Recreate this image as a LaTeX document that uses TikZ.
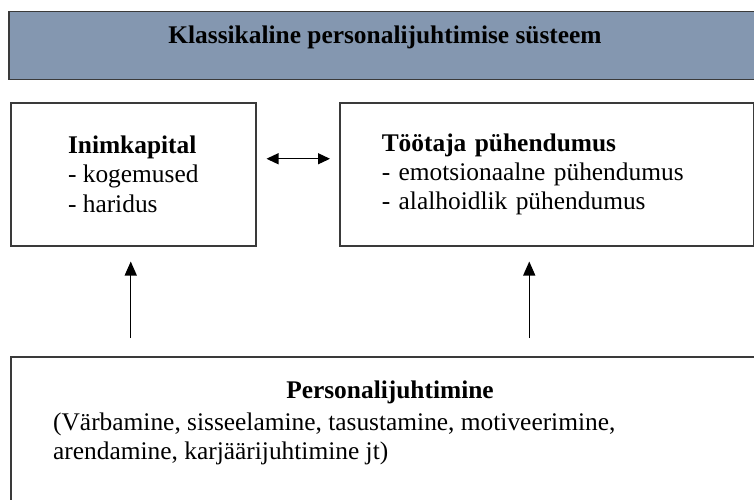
\documentclass[tikz,border=0pt]{standalone}
\usepackage{fontspec}
\setmainfont{Liberation Serif}
\usetikzlibrary{arrows.meta,positioning,calc}

\definecolor{bannerblue}{HTML}{8497B0}
\definecolor{edgegray}{HTML}{3A3A3A}

\begin{document}
\begin{tikzpicture}[
      x=1pt, y=-1pt,
      font=\fontsize{25.4}{29.2}\selectfont,
      box/.style={draw=edgegray, line width=1.5pt, anchor=north west,
        inner sep=0pt},
      banner/.style={box, fill=bannerblue, minimum width=760pt, minimum height=68pt},
      factor/.style={box, align=left, minimum height=143pt},
      txt/.style={inner sep=0pt},
      arr/.style={-{Triangle[length=14pt, width=12pt]}, line width=1.3pt},
      biarr/.style={{Triangle[length=12pt, width=11pt]}-{Triangle[length=12pt, width=11pt]},
        line width=1.3pt},
    ]
    \useasboundingbox (0,0) rectangle (754,499);
    \clip (0,0) rectangle (754,499);

    \node[banner] (sys) at (8,10.5) {};
    \node[txt, anchor=base] (systitle) at (385,43) {\textbf{Klassikaline personalijuhtimise süsteem}};

    \node[factor, minimum width=245pt] (hc) at (10,102)
      {\textbf{Inimkapital}\\- kogemused\\- haridus};
    \node[factor, minimum width=414pt, text width=330pt] (commit) at (339,102)
      {\textbf{Töötaja pühendumus}\\- emotsionaalne pühendumus\\- alalhoidlik pühendumus};

    \node[box, minimum width=760pt, minimum height=200pt] (hrm) at (10,356) {};
    \node[txt, anchor=base] (hrmtitle) at (390,398) {\textbf{Personalijuhtimine}};
    \node[txt, anchor=north west, align=left] (hrmlist) at (53,412.5)
      {(Värbamine, sisseelamine, tasustamine, motiveerimine,\\arendamine, karjäärijuhtimine jt)};

    \draw[biarr, shorten <=10pt, shorten >=9pt]
      ([yshift=15.5pt]hc.east) -- ([yshift=15.5pt]commit.west);
    \draw[arr, shorten <=18pt, shorten >=15pt]
      ([xshift=-2.5pt]hc.south |- hrm.north) -- ([xshift=-2.5pt]hc.south);
    \draw[arr, shorten <=18pt, shorten >=15pt]
      ([xshift=-17.5pt]commit.south |- hrm.north) -- ([xshift=-17.5pt]commit.south);
  \end{tikzpicture}
\end{document}
